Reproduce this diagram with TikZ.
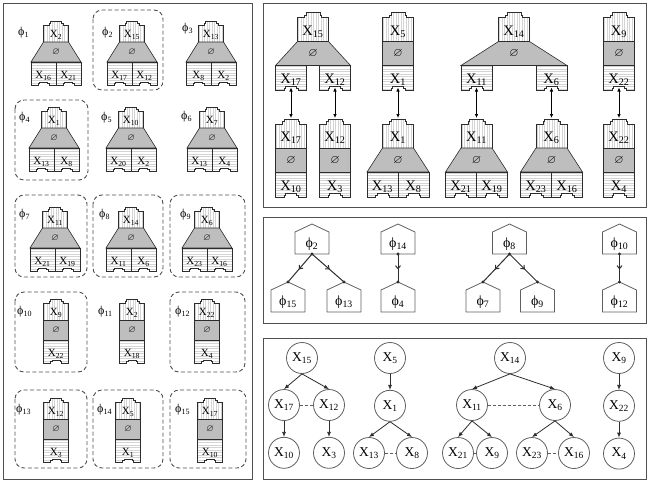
\documentclass[tikz,border=0pt]{standalone}
\usepackage{amssymb}
\usepackage{fontspec}
\setmainfont{Liberation Serif}
\usetikzlibrary{arrows.meta,positioning,decorations.markings}
\definecolor{framegray}{RGB}{80,80,80}
\definecolor{inkgray}{RGB}{45,45,45}
\definecolor{edgegray}{RGB}{95,95,95}
\definecolor{sepgray}{RGB}{190,190,190}
\definecolor{stripegray}{RGB}{212,212,212}

\newcommand{\xv}[1]{X\textsubscript{#1}}
\newcommand{\fv}[1]{ϕ\textsubscript{#1}}
\newcommand{\pzbig}{\def\pzw{31}\def\pzh{24}\def\pzt{5}\def\pzg{24}\def\pzc{25}\def\pzn{4}%
  \def\pzfont{\fontsize{14.5}{15}\selectfont}\def\pzsfont{\fontsize{12}{12}\selectfont}}
\newcommand{\pzsmall}{\def\pzw{25}\def\pzh{17}\def\pzt{4}\def\pzg{20}\def\pzc{23}\def\pzn{3}%
  \def\pzfont{\fontsize{11}{11}\selectfont}\def\pzsfont{\fontsize{9.5}{10}\selectfont}}
\newcommand{\pzhead}[4]{%
  \pgfmathsetmacro\hdl{#1-\pzw/2}\pgfmathsetmacro\hdr{#1+\pzw/2}%
  \pgfmathsetmacro\hda{#1-0.28*\pzw}\pgfmathsetmacro\hdb{#1+0.28*\pzw}%
  \pgfmathsetmacro\hdy{#2-\pzh}\pgfmathsetmacro\hdm{#2-\pzh-\pzt/2}%
  \pgfmathsetmacro\hdq{#2-\pzh-\pzt}%
  \def\hdpath{(\hdl,#2) -- (\hdl,\hdy) -- (\hda,\hdy) -- (\hda,\hdm)
    -- ({\hda+1.5},\hdm) -- ({\hda+1.5},\hdq) -- ({\hdb-1.5},\hdq) -- ({\hdb-1.5},\hdm)
    -- (\hdb,\hdm) -- (\hdb,\hdy) -- (\hdr,\hdy) -- (\hdr,#2) -- cycle}%
  \begin{scope}
    \clip \hdpath;
    \foreach \s in {1,3.5,...,40} \draw[stripe] ({\hdl+\s},\hdq) -- ({\hdl+\s},#2);
  \end{scope}
  \draw[blk] \hdpath;
  \node[lbl, anchor=base] (#4) at (#1,{#2-0.27*\pzh}) {#3};
  \coordinate (#4-top) at (#1,\hdq);}
\newcommand{\pzsep}[4]{%
  \draw[blk, fill=sepgray] ({#1-\pzw/2},#2) -- ({#1+\pzw/2},#2) -- ({#1+#3/2},{#2+\pzg})
    -- ({#1-#3/2},{#2+\pzg}) -- cycle;
  \node[sym] (#4) at (#1,{#2+\pzg/2}) {$\varnothing$};}
\newcommand{\pzcell}[4]{%
  \pgfmathsetmacro\pcl{#1}\pgfmathsetmacro\pcr{#1+\pzw}%
  \pgfmathsetmacro\pcx{#1+\pzw/2}\pgfmathsetmacro\pch{0.22*\pzw}%
  \pgfmathsetmacro\pcb{#2+\pzc}\pgfmathsetmacro\pcm{#2+\pzc-\pzn/2}%
  \pgfmathsetmacro\pcn{#2+\pzc-\pzn}%
  \def\pcpath{(\pcl,#2) -- (\pcr,#2) -- (\pcr,\pcb) -- ({\pcx+\pch},\pcb)
    -- ({\pcx+\pch},\pcm) -- ({\pcx+\pch-1.5},\pcm) -- ({\pcx+\pch-1.5},\pcn)
    -- ({\pcx-\pch+1.5},\pcn) -- ({\pcx-\pch+1.5},\pcm) -- ({\pcx-\pch},\pcm)
    -- ({\pcx-\pch},\pcb) -- (\pcl,\pcb) -- cycle}%
  \begin{scope}
    \clip \pcpath;
    \foreach \s in {1,3.5,...,30} \draw[stripe] (\pcl,{#2+\s}) -- (\pcr,{#2+\s});
  \end{scope}
  \draw[blk] \pcpath;
  \node[lbl, anchor=base] (#4) at (\pcx,{#2+0.72*\pzc}) {#3};
  \coordinate (#4-bot) at (\pcx,\pcn);}
\newcommand{\pzchain}[5]{%
  \pzhead{#1}{#2}{#3}{#5}%
  \pzsep{#1}{#2}{\pzw}{#5-s}%
  \pgfmathsetmacro\chx{#1-\pzw/2}\pgfmathsetmacro\chy{#2+\pzg}%
  \pzcell{\chx}{\chy}{#4}{#5-c}}
\newcommand{\pzfork}[7]{%
  \pgfmathsetmacro\pzbw{2*\pzw+#6}%
  \pzhead{#1}{#2}{#3}{#7}%
  \pzsep{#1}{#2}{\pzbw}{#7-s}%
  \pgfmathsetmacro\pzxa{#1-\pzbw/2}\pgfmathsetmacro\pzxb{#1+#6/2}%
  \pgfmathsetmacro\pzyc{#2+\pzg}%
  \pzcell{\pzxa}{\pzyc}{#4}{#7-l}%
  \pzcell{\pzxb}{\pzyc}{#5}{#7-r}}
\newcommand{\house}[4]{%
  \draw[hse] ({#1-17},#2) -- ({#1-17},{#2-22}) -- (#1,{#2-30}) -- ({#1+17},{#2-22})
    -- ({#1+17},#2) -- cycle;
  \node[plbl] (#4) at (#1,{#2-10}) {#3};
  \coordinate (#4-t) at (#1,{#2-30});
  \coordinate (#4-b) at (#1,#2);}

\begin{document}
\begin{tikzpicture}[x=1pt, y=-1pt,
    blk/.style={draw=inkgray, line width=0.6pt},
    stripe/.style={draw=stripegray, line width=0.35pt},
    lbl/.style={inner sep=0pt, font=\pzfont},
    sym/.style={inner sep=0pt, font=\pzsfont},
    panel/.style={draw=framegray, line width=0.9pt},
    grp/.style={draw=framegray, line width=0.9pt, dash pattern=on 4pt off 2.5pt, rounded corners=9pt},
    phl/.style={inner sep=0pt, anchor=west, font=\fontsize{12}{12}\selectfont},
    dbl/.style={{Latex[length=4pt,width=3.5pt]}-{Latex[length=4pt,width=3.5pt]}, draw=black,
                line width=0.7pt, shorten <=1pt, shorten >=1pt},
    hse/.style={draw=edgegray, line width=0.8pt},
    plbl/.style={inner sep=0pt, font=\fontsize{14}{14}\selectfont},
    tedge/.style={draw=inkgray, line width=1pt, postaction={decorate},
                  decoration={markings, mark=at position 0.55 with {\arrow{Straight Barb[length=3pt,width=5pt]}}}},
    rv/.style={circle, draw=edgegray, line width=0.8pt, minimum size=31pt, inner sep=0pt,
               font=\fontsize{13.5}{14}\selectfont},
    arr/.style={-{Latex[length=5pt,width=4pt]}, draw=inkgray, line width=0.8pt},
    sib/.style={draw=edgegray, line width=0.8pt, dash pattern=on 3pt off 2pt}]
  \useasboundingbox (0,0) rectangle (659,482);

  % left panel: the fifteen cliques
  \draw[panel] (3,3) rectangle (252,479);
  \draw[grp] (93,10) rectangle (163,90);
  \draw[grp] (15,100) rectangle (88,180);
  \draw[grp] (15,195) rectangle (87,277);
  \draw[grp] (93,195) rectangle (163,277);
  \draw[grp] (170,195) rectangle (245,277);
  \draw[grp] (15,292) rectangle (87,372);
  \draw[grp] (170,292) rectangle (245,372);
  \draw[grp] (15,390) rectangle (87,468);
  \draw[grp] (93,390) rectangle (163,468);
  \draw[grp] (170,390) rectangle (246,468);
  \node[phl] (l1) at (18,33) {\fv{1}};
  \node[phl] (l2) at (102,33) {\fv{2}};
  \node[phl] (l3) at (182,29) {\fv{3}};
  \node[phl] (l4) at (19,118) {\fv{4}};
  \node[phl] (l5) at (101,118) {\fv{5}};
  \node[phl] (l6) at (181,117) {\fv{6}};
  \node[phl] (l7) at (19,215) {\fv{7}};
  \node[phl] (l8) at (99,215) {\fv{8}};
  \node[phl] (l9) at (180,215) {\fv{9}};
  \node[phl] (l10) at (17,312) {\fv{10}};
  \node[phl] (l11) at (98,312) {\fv{11}};
  \node[phl] (l12) at (175,312) {\fv{12}};
  \node[phl] (l13) at (16,410) {\fv{13}};
  \node[phl] (l14) at (97,410) {\fv{14}};
  \node[phl] (l15) at (175,410) {\fv{15}};
  \pzsmall
  \pzfork{56}{42}{\xv{2}}{\xv{16}}{\xv{21}}{0}{b1}
  \pzfork{132}{42}{\xv{15}}{\xv{17}}{\xv{12}}{0}{b2}
  \pzfork{211}{42}{\xv{13}}{\xv{8}}{\xv{2}}{0}{b3}
  \pzfork{54}{128}{\xv{1}}{\xv{13}}{\xv{8}}{0}{b4}
  \pzfork{131}{128}{\xv{10}}{\xv{20}}{\xv{2}}{0}{b5}
  \pzfork{212}{128}{\xv{7}}{\xv{13}}{\xv{4}}{0}{b6}
  \pzfork{55}{228}{\xv{11}}{\xv{21}}{\xv{19}}{0}{b7}
  \pzfork{131}{228}{\xv{14}}{\xv{11}}{\xv{6}}{0}{b8}
  \pzfork{207}{228}{\xv{6}}{\xv{23}}{\xv{16}}{0}{b9}
  \pzchain{56}{320}{\xv{9}}{\xv{22}}{b10}
  \pzchain{132}{320}{\xv{2}}{\xv{18}}{b11}
  \pzchain{207}{320}{\xv{22}}{\xv{4}}{b12}
  \pzchain{56}{419}{\xv{12}}{\xv{3}}{b13}
  \pzchain{128}{419}{\xv{5}}{\xv{1}}{b14}
  \pzchain{210}{419}{\xv{17}}{\xv{10}}{b15}

  % top right: cliques joined
  \draw[panel] (263,3) rectangle (646,207);
  \pzbig
  \pzfork{313}{41.5}{\xv{15}}{\xv{17}}{\xv{12}}{13}{t15}
  \pzchain{398}{41.5}{\xv{5}}{\xv{1}}{t5}
  \pzfork{514}{41.5}{\xv{14}}{\xv{11}}{\xv{6}}{44}{t14}
  \pzchain{619}{41.5}{\xv{9}}{\xv{22}}{t9}
  \pzchain{291}{148}{\xv{17}}{\xv{10}}{t17}
  \pzchain{335}{148}{\xv{12}}{\xv{3}}{t12}
  \pzfork{398}{148}{\xv{1}}{\xv{13}}{\xv{8}}{0}{t1}
  \pzfork{476.5}{148}{\xv{11}}{\xv{21}}{\xv{19}}{0}{t11}
  \pzfork{551.5}{148}{\xv{6}}{\xv{23}}{\xv{16}}{0}{t6}
  \pzchain{619}{148}{\xv{22}}{\xv{4}}{t22}
  \draw[dbl] (t15-l-bot) -- (t17-top);
  \draw[dbl] (t15-r-bot) -- (t12-top);
  \draw[dbl] (t5-c-bot) -- (t1-top);
  \draw[dbl] (t14-l-bot) -- (t11-top);
  \draw[dbl] (t14-r-bot) -- (t6-top);
  \draw[dbl] (t9-c-bot) -- (t22-top);

  % middle: clique tree
  \draw[panel] (263,217) rectangle (646,323);
  \house{312}{254}{\fv{2}}{p2}
  \house{398}{254}{\fv{14}}{p14}
  \house{509.5}{254}{\fv{8}}{p8}
  \house{619.5}{254}{\fv{10}}{p10}
  \house{288}{312}{\fv{15}}{p15}
  \house{344}{312}{\fv{13}}{p13}
  \house{398}{312}{\fv{4}}{p4}
  \house{483}{312}{\fv{7}}{p7}
  \house{537.5}{312}{\fv{9}}{p9}
  \house{619.5}{312}{\fv{12}}{p12}
  \draw[tedge] (p2-b) -- (p15-t);
  \draw[tedge] (p2-b) -- (p13-t);
  \draw[tedge] (p14-b) -- (p4-t);
  \draw[tedge] (p8-b) -- (p7-t);
  \draw[tedge] (p8-b) -- (p9-t);
  \draw[tedge] (p10-b) -- (p12-t);
  \foreach \d in {p2-b,p14-b,p8-b,p10-b,p15-t,p13-t,p4-t,p7-t,p9-t,p12-t}
    \fill[inkgray] (\d) circle (1.7);

  % bottom: the network
  \draw[panel] (263,338) rectangle (646,479);
  \node[rv] (x15) at (302,358) {\xv{15}};
  \node[rv] (x17) at (284,405) {\xv{17}};
  \node[rv] (x12) at (329,405) {\xv{12}};
  \node[rv, below=16pt of x17] (x10) {\xv{10}};
  \node[rv, below=16pt of x12] (x3) {\xv{3}};
  \node[rv] (x5) at (390,358) {\xv{5}};
  \node[rv, below=16pt of x5] (x1) {\xv{1}};
  \node[rv] (x13) at (369,453) {\xv{13}};
  \node[rv] (x8) at (412,453) {\xv{8}};
  \node[rv] (x14) at (510,358) {\xv{14}};
  \node[rv] (x11) at (472,405) {\xv{11}};
  \node[rv] (x6) at (555,405) {\xv{6}};
  \node[rv] (x21) at (458,453) {\xv{21}};
  \node[rv] (x9b) at (492,453) {\xv{9}};
  \node[rv] (x23) at (532,453) {\xv{23}};
  \node[rv] (x16) at (574,453) {\xv{16}};
  \node[rv] (x9) at (619,358) {\xv{9}};
  \node[rv, below=16pt of x9] (x22) {\xv{22}};
  \node[rv, below=16pt of x22] (x4) {\xv{4}};
  \draw[arr] (x15.south) -- (x17.north);
  \draw[arr] (x15.south) -- (x12.north);
  \draw[arr] (x17) -- (x10);
  \draw[arr] (x12) -- (x3);
  \draw[arr] (x5) -- (x1);
  \draw[arr] (x1.south) -- (x13.north);
  \draw[arr] (x1.south) -- (x8.north);
  \draw[arr] (x14.south) -- (x11.north);
  \draw[arr] (x14.south) -- (x6.north);
  \draw[arr] (x11.south) -- (x21.north);
  \draw[arr] (x11.south) -- (x9b.north);
  \draw[arr] (x6.south) -- (x23.north);
  \draw[arr] (x6.south) -- (x16.north);
  \draw[arr] (x9) -- (x22);
  \draw[arr] (x22) -- (x4);
  \draw[sib] (x17) -- (x12);
  \draw[sib] (x11) -- (x6);
  \draw[sib] (x13) -- (x8);
  \draw[sib] (x21) -- (x9b);
  \draw[sib] (x23) -- (x16);
\end{tikzpicture}
\end{document}
